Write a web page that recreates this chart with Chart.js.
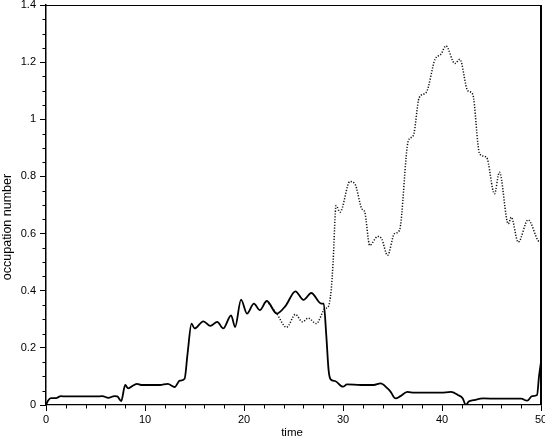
<!DOCTYPE html>
<html>
<head>
<meta charset="utf-8">
<script src="https://cdn.jsdelivr.net/npm/chart.js@4/dist/chart.umd.min.js"></script>
<style>
  html, body { margin: 0; padding: 0; background: #fff; }
  canvas { display: block; }
</style>
</head>
<body>
<canvas id="c" width="545" height="436"></canvas>
<script>
// ---- data ----
const timeSolid = [0, 0.2, 0.5, 1.0, 1.5, 2.0, 3.0, 4.0, 5.0, 5.7, 6.3, 6.9, 7.2, 7.6, 8.0, 8.3, 8.8, 9.2, 9.6, 10.5, 11.5, 12.3, 13.0, 13.5, 14.0, 14.3, 14.7, 15.0, 15.9, 16.6, 17.3, 17.9, 18.7, 19.1, 19.7, 20.3, 21.0, 21.6, 22.3, 23.3, 24.2, 25.2, 26.0, 26.8, 27.8, 28.05, 28.3, 28.55, 28.75, 29.2, 30.0, 30.4, 31.8, 33.1, 33.8, 34.5, 34.8, 35.3, 35.8, 36.5, 37.2, 38.9, 39.9, 40.9, 41.6, 42.1, 42.4, 42.7, 43.2, 44.2, 45.6, 48.0, 48.6, 49.1, 49.6, 49.8, 50.0];
const solidValues = [0, 0.015, 0.024, 0.024, 0.031, 0.03, 0.03, 0.03, 0.03, 0.031, 0.025, 0.031, 0.03, 0.014, 0.07, 0.058, 0.068, 0.074, 0.07, 0.07, 0.07, 0.074, 0.063, 0.085, 0.092, 0.18, 0.285, 0.268, 0.293, 0.277, 0.291, 0.268, 0.314, 0.273, 0.369, 0.32, 0.355, 0.332, 0.364, 0.32, 0.347, 0.398, 0.368, 0.392, 0.355, 0.355, 0.25, 0.12, 0.09, 0.084, 0.064, 0.072, 0.07, 0.07, 0.076, 0.058, 0.047, 0.023, 0.031, 0.046, 0.043, 0.043, 0.043, 0.046, 0.035, 0.023, 0.0, 0.012, 0.017, 0.023, 0.022, 0.022, 0.015, 0.031, 0.035, 0.1, 0.15];

const timeDotted = [22.3, 23.3, 24.3, 25.2, 25.9, 26.5, 27.3, 28.2, 28.5, 28.8, 29.0, 29.3, 29.7, 30.7, 31.2, 31.9, 32.2, 32.7, 33.5, 33.9, 34.5, 35.2, 35.7, 36.6, 37.1, 37.7, 38.4, 39.3, 39.9, 40.4, 41.3, 41.8, 42.6, 43.1, 43.8, 44.5, 45.3, 45.8, 46.7, 47.0, 47.7, 48.7, 49.7, 50.0];
const dottedValues = [0.364, 0.32, 0.272, 0.317, 0.291, 0.304, 0.285, 0.338, 0.343, 0.40, 0.5, 0.698, 0.675, 0.782, 0.774, 0.687, 0.675, 0.559, 0.59, 0.582, 0.524, 0.6, 0.611, 0.925, 0.943, 1.076, 1.094, 1.21, 1.228, 1.257, 1.195, 1.21, 1.10, 1.088, 0.879, 0.867, 0.739, 0.815, 0.634, 0.657, 0.57, 0.648, 0.576, 0.57];

const xTicks = [0, 10, 20, 30, 40, 50];
const xTickLabels = ['0', '10', '20', '30', '40', '50'];
const yTicks = [0, 0.2, 0.4, 0.6, 0.8, 1.0, 1.2, 1.4];
const yTickLabels = ['0', '0.2', '0.4', '0.6', '0.8', '1', '1.2', '1.4'];

const xTitle = 'time';
const yTitle = 'occupation number';

// ---- chart ----
const FONT = '"Liberation Sans", Arial, Helvetica, sans-serif';

const extras = {
  id: 'extras',
  afterDraw(chart) {
    const ctx = chart.ctx;
    const a = chart.chartArea;
    const xs = chart.scales.x, ys = chart.scales.y;
    ctx.save();
    ctx.strokeStyle = '#000';
    // frame top & right
    ctx.lineWidth = 1.2;
    ctx.beginPath();
    ctx.moveTo(a.left, a.top + 0.5);
    ctx.lineTo(a.right, a.top + 0.5);
    ctx.stroke();
    ctx.lineWidth = 2;
    ctx.beginPath();
    ctx.moveTo(a.right, a.top);
    ctx.lineTo(a.right, a.bottom);
    ctx.stroke();
    // minor ticks
    ctx.lineWidth = 1;
    ctx.beginPath();
    for (let k = 1; k < 28; k++) {
      if (k % 4 === 0) continue;
      const y = Math.round(ys.getPixelForValue(k * 0.05)) + 0.5;
      ctx.moveTo(a.left, y);
      ctx.lineTo(a.left - 3.5, y);
    }
    for (let k = 1; k < 25; k++) {
      if (k % 5 === 0) continue;
      const x = Math.round(xs.getPixelForValue(k * 2)) + 0.5;
      ctx.moveTo(x, a.bottom);
      ctx.lineTo(x, a.bottom + 3.5);
    }
    ctx.stroke();
    // axis titles
    ctx.fillStyle = '#000';
    ctx.font = '12.5px ' + FONT;
    ctx.textAlign = 'center';
    ctx.textBaseline = 'middle';
    ctx.save();
    ctx.translate(8, 227);
    ctx.rotate(-Math.PI / 2);
    ctx.fillText(yTitle, 0, 0);
    ctx.restore();
    ctx.font = '11.5px ' + FONT;
    ctx.textBaseline = 'alphabetic';
    ctx.fillText(xTitle, 292, 436);
    ctx.restore();
  }
};

new Chart(document.getElementById('c'), {
  type: 'line',
  data: {
    datasets: [
      {
        label: 'solid',
        data: timeSolid.map((t, i) => ({ x: t, y: solidValues[i] })),
        borderColor: '#000',
        borderWidth: 1.8,
        pointRadius: 0,
        fill: false,
        cubicInterpolationMode: 'monotone'
      },
      {
        label: 'dotted',
        data: timeDotted.map((t, i) => ({ x: t, y: dottedValues[i] })),
        borderColor: '#111',
        borderWidth: 1.5,
        borderDash: [1.2, 1.6],
        pointRadius: 0,
        fill: false,
        cubicInterpolationMode: 'monotone'
      }
    ]
  },
  options: {
    responsive: false,
    animation: false,
    events: [],
    layout: { padding: { left: 0, right: 4, top: 5, bottom: 0 } },
    plugins: { legend: { display: false }, tooltip: { enabled: false } },
    scales: {
      x: {
        type: 'linear',
        min: 0, max: 50,
        afterBuildTicks(s) { s.ticks = xTicks.map(v => ({ value: v })); },
        afterFit(s) { s.height = 31; s.paddingLeft = 0; s.paddingRight = 0; },
        ticks: {
          callback: (v, i) => xTickLabels[i],
          color: '#000',
          font: { family: FONT, size: 11 },
          padding: 2,
          maxRotation: 0,
          autoSkip: false
        },
        grid: { drawOnChartArea: false, drawTicks: true, tickLength: 6, tickColor: '#000', tickWidth: 1 },
        border: { display: true, color: '#000', width: 1.3 }
      },
      y: {
        type: 'linear',
        min: 0, max: 1.4,
        afterBuildTicks(s) { s.ticks = yTicks.map(v => ({ value: v })); },
        afterFit(s) { s.width = 46; s.paddingTop = 0; s.paddingBottom = 0; },
        ticks: {
          callback: (v, i) => yTickLabels[i],
          color: '#000',
          font: { family: FONT, size: 11 },
          padding: 4,
          autoSkip: false
        },
        grid: { drawOnChartArea: false, drawTicks: true, tickLength: 6, tickColor: '#000', tickWidth: 1 },
        border: { display: true, color: '#000', width: 1.5 }
      }
    }
  },
  plugins: [extras]
});
</script>
</body>
</html>
